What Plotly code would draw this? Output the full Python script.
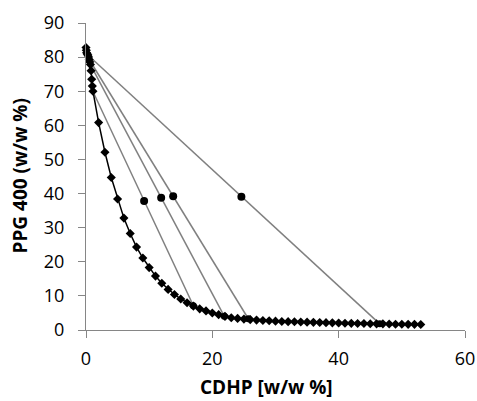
import plotly.graph_objects as go

# Binodal curve (CDHP, PPG 400)
bin_x = [0.0, 0.05, 0.1, 0.2, 0.3, 0.4, 0.5, 0.6, 0.7, 0.8, 0.9, 1.0, 1.1,
         2, 3, 4, 5, 6, 7, 8, 9, 10, 11, 12, 13, 14, 15, 16, 17, 18, 19, 20,
         21, 22, 23, 24, 25, 26, 27, 28, 29, 30, 31, 32, 33, 34, 35, 36, 37,
         38, 39, 40, 41, 42, 43, 44, 45, 46, 47, 48, 49, 50, 51, 52, 53]
bin_y = [82.8, 82.0, 81.3, 80.9, 80.6, 80.0, 79.3, 78.6, 77.8, 76.0, 73.5, 71.5, 70.0,
         60.8, 52.1, 44.7, 38.4, 32.8, 28.3, 24.3, 21.1, 18.3, 15.8, 13.7, 11.9, 10.4,
         9.1, 8.0, 7.0, 6.2, 5.6, 5.0, 4.5, 4.0, 3.6, 3.4, 3.2, 3.05, 2.9, 2.8, 2.7,
         2.6, 2.5, 2.45, 2.4, 2.35, 2.3, 2.25, 2.2, 2.15, 2.1, 2.05, 2.0, 1.95, 1.9,
         1.9, 1.85, 1.8, 1.8, 1.75, 1.7, 1.7, 1.65, 1.65, 1.6]

# Tie lines: top-phase, bottom-phase compositions
tie_top_x = [0.95, 0.7, 0.5, 0.3]
tie_top_y = [70.5, 77.8, 79.3, 80.6]
tie_bot_x = [17.0, 21.9, 25.7, 46.5]
tie_bot_y = [7.1, 4.0, 3.3, 1.8]

# Feed (overall) compositions
feed_x = [9.2, 11.9, 13.8, 24.6]
feed_y = [37.8, 38.8, 39.2, 39.1]

x_ticks = [0, 20, 40, 60]
y_ticks = [0, 10, 20, 30, 40, 50, 60, 70, 80, 90]

fig = go.Figure()

for i in range(len(tie_top_x)):
    fig.add_trace(go.Scatter(
        x=[tie_top_x[i], feed_x[i], tie_bot_x[i]],
        y=[tie_top_y[i], feed_y[i], tie_bot_y[i]],
        mode="lines", line=dict(color="#808080", width=1.5),
        showlegend=False, cliponaxis=False, hoverinfo="skip"))

fig.add_trace(go.Scatter(
    x=tie_bot_x, y=tie_bot_y, mode="markers",
    marker=dict(symbol="circle", size=7, color="black"),
    showlegend=False, cliponaxis=False))

fig.add_trace(go.Scatter(
    x=bin_x, y=bin_y, mode="lines+markers",
    line=dict(color="black", width=1.5),
    marker=dict(symbol="diamond", size=7, color="black"),
    showlegend=False, cliponaxis=False))

fig.add_trace(go.Scatter(
    x=feed_x, y=feed_y, mode="markers",
    marker=dict(symbol="circle", size=8, color="black"),
    showlegend=False, cliponaxis=False))

FONT = "Open Sans, Liberation Sans, sans-serif"
axis_font = dict(family=FONT, size=18, color="black")
title_font = dict(family=FONT, size=19, color="black")

fig.update_layout(
    width=477, height=401,
    margin=dict(l=86, r=12, t=23, b=71),
    plot_bgcolor="white", paper_bgcolor="white",
    xaxis=dict(range=[0, 60], tickvals=x_ticks, showgrid=False, zeroline=False,
               showline=True, linecolor="#868686", linewidth=1.2,
               ticks="outside", ticklen=7, tickcolor="#868686",
               tickfont=axis_font, automargin=False, ticklabelstandoff=5),
    yaxis=dict(range=[0, 90], tickvals=y_ticks, showgrid=False, zeroline=False,
               showline=True, linecolor="#868686", linewidth=1.2,
               ticks="outside", ticklen=7, tickcolor="#868686",
               tickfont=axis_font, automargin=False, ticklabelstandoff=10),
    annotations=[
        dict(text="<b>CDHP [w/w %]</b>", xref="paper", yref="paper",
             x=(266 - 86) / (465 - 86), y=-(387 - 330) / (330 - 23),
             xanchor="center", yanchor="middle", showarrow=False, font=title_font),
        dict(text="<b>PPG 400 (w/w %)</b>", xref="paper", yref="paper",
             x=-(86 - 19) / (465 - 86), y=0.5, textangle=-90,
             xanchor="center", yanchor="middle", showarrow=False, font=title_font),
    ],
)

fig.write_html("out.html", config={"displayModeBar": False},
               post_script="document.body.style.margin='0';document.body.style.overflow='hidden';")
